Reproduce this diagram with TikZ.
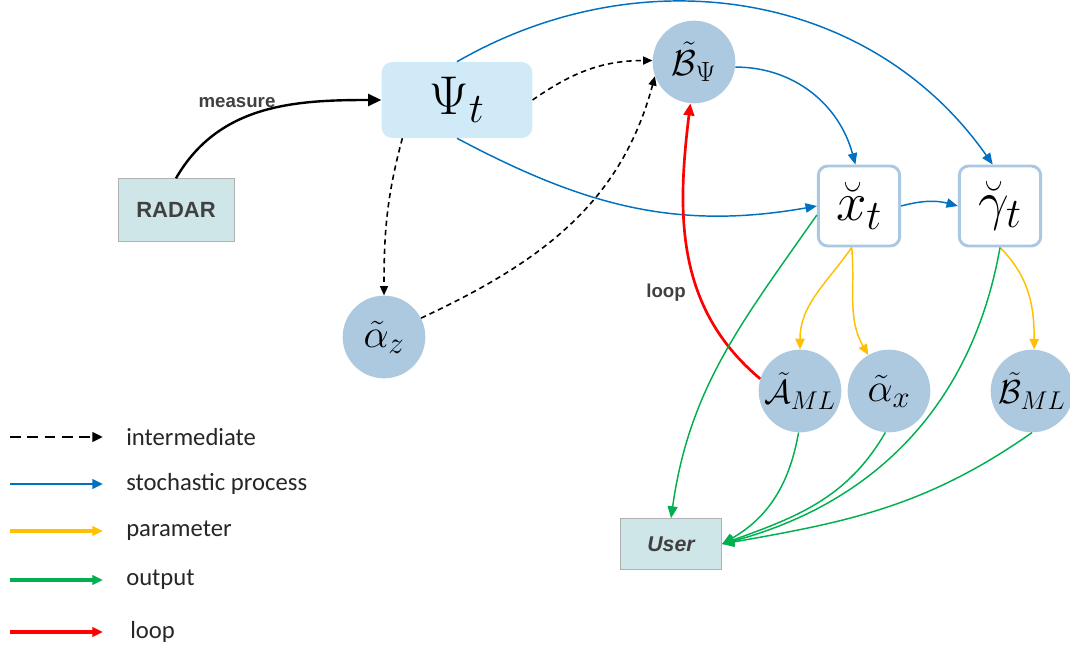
\RequirePackage{fix-cm}
\documentclass[tikz,border=0pt]{standalone}
\usepackage{amsmath}
\usepackage{graphicx}
\usepackage{xcolor}
\usepackage{fontspec}
\newfontfamily\arialfont{Liberation Sans}
\newfontfamily\legendfont{Carlito}
\usepackage{tikz}
\usetikzlibrary{arrows.meta}

\definecolor{procblue}{RGB}{0,112,192}
\definecolor{paramyellow}{RGB}{255,192,0}
\definecolor{outgreen}{RGB}{0,176,80}
\definecolor{loopred}{RGB}{255,0,0}
\definecolor{circfill}{RGB}{173,201,224}
\definecolor{psifill}{RGB}{208,234,248}
\definecolor{radarfill}{RGB}{207,230,232}
\definecolor{boxline}{RGB}{170,200,228}
\definecolor{labelgray}{RGB}{64,64,64}

% larger subscripts, as in the drawing
\newcommand{\bsub}[1]{\scalebox{1.1}{$\scriptstyle #1$}}

\tikzset{
  varcirc/.style={circle,fill=circfill,minimum size=62pt,inner sep=-6pt},
  varbox/.style={rectangle,rounded corners=7pt,draw=boxline,line width=2.2pt,fill=white,
    minimum width=61pt,minimum height=60pt,inner sep=0pt},
  iobox/.style={rectangle,fill=radarfill,draw=gray!60,line width=0.6pt,text=labelgray,
    inner sep=0pt},
  interm/.style={draw=black,line width=1.2pt,dash pattern=on 4pt off 3pt,
    -{Triangle[length=7pt,width=6pt]}},
  stoch/.style={draw=procblue,line width=1.1pt,-{Triangle[length=8.5pt,width=7pt]}},
  param/.style={draw=paramyellow,line width=1.1pt,-{Triangle[length=8pt,width=7pt]}},
  outp/.style={draw=outgreen,line width=1.1pt,-{Triangle[length=9pt,width=7.5pt]}},
  loopr/.style={draw=loopred,line width=2pt,-{Triangle[length=9pt,width=8pt]}},
  legtext/.style={anchor=west,inner sep=0pt,text=black!85,font=\legendfont\fontsize{18.5}{20}\selectfont},
}

\begin{document}
\begin{tikzpicture}[x=0.75pt,y=0.75pt]
    \useasboundingbox (0,0) rectangle (1070,650);

    % sources and targets
    \node[iobox,minimum width=87pt,minimum height=47pt,font=\arialfont\bfseries\fontsize{16.5}{18}\selectfont]
      (radar) at (176,440) {RADAR};
    \node[iobox,minimum width=76pt,minimum height=38pt,font=\arialfont\bfseries\itshape\fontsize{16}{18}\selectfont]
      (user) at (671,106) {User};

    % variables
    \node[rectangle,rounded corners=8pt,fill=psifill,minimum width=113pt,minimum height=57pt,
      font=\fontsize{41}{44}\selectfont] (psi) at (457,550) {$\Psi_{\bsub{t}}$};
    \node[varcirc,font=\fontsize{27}{30}\selectfont] (bpsi) at (694,588) {$\tilde{\mathcal{B}}_{\bsub{\Psi}}$};
    \node[varbox,font=\fontsize{41}{44}\selectfont] (xt) at (859,444) {$\breve{x}_{\bsub{t}}$};
    \node[varbox,font=\fontsize{41}{44}\selectfont] (gam) at (1000,444) {$\breve{\gamma}_{\bsub{t}}$};
    \node[varcirc,font=\fontsize{30}{34}\selectfont] (alz) at (384,313) {$\tilde{\alpha}_{\bsub{z}}$};
    \node[varcirc,font=\fontsize{25}{28}\selectfont] (aml) at (800,259) {$\tilde{\mathcal{A}}_{\bsub{ML}}$};
    \node[varcirc,font=\fontsize{30}{34}\selectfont] (alx) at (889,259) {$\tilde{\alpha}_{\bsub{x}}$};
    \node[varcirc,font=\fontsize{25}{28}\selectfont] (bml) at (1032,259) {$\tilde{\mathcal{B}}_{\bsub{ML}}$};

    % measure
    \draw[line width=1.8pt,-{Triangle[length=10pt,width=9pt]}] (radar.north) to[out=60,in=180] (psi.west);
    \node[text=labelgray,font=\arialfont\bfseries\fontsize{14}{16}\selectfont] (measure) at (237,547) {measure};

    % intermediate
    \draw[interm] (psi.-145) to[out=-105,in=90] (alz.north);
    \draw[interm] (alz.27) to[out=25,in=-105] (bpsi.200);
    \draw[interm] (psi.east) to[out=35,in=180] (bpsi.178);

    % stochastic process
    \draw[stoch] (psi.north) to[out=30,in=125] (gam.100);
    \draw[stoch] (psi.south) to[out=-28,in=190] (xt.west);
    \draw[stoch] (bpsi.-7) to[out=0,in=105] (xt.95);
    \draw[stoch] (xt.east) to[bend left=15] (gam.west);

    % parameters
    \draw[param] (xt.-100) to[out=-125,in=90] (aml.north);
    \draw[param] (xt.-100) to[out=-85,in=120] (alx.120);
    \draw[param] (gam.-90) to[out=-45,in=90] (bml.87);

    % loop
    \draw[loopr] (aml.163) to[out=140,in=-97] (bpsi.-95);
    \node[text=labelgray,font=\arialfont\bfseries\fontsize{14}{16}\selectfont] (looplabel) at (666,357) {loop};

    % outputs
    \draw[outp] (xt.192) to[out=-125,in=82] (user.north);
    \draw[outp] (aml.-92) to[out=-100,in=30] (user.east);
    \draw[outp] (alx.-95) to[out=-120,in=20] (user.east);
    \draw[outp] (gam.-90) to[out=-100,in=15] (user.east);
    \draw[outp] (bml.-90) to[out=-145,in=10] (user.east);

    % legend
    \coordinate (l1a) at (10,213);  \coordinate (l1b) at (103,213);
    \coordinate (l2a) at (10,166);  \coordinate (l2b) at (103,166);
    \coordinate (l3a) at (10,119);  \coordinate (l3b) at (103,119);
    \coordinate (l4a) at (10,70);   \coordinate (l4b) at (103,70);
    \coordinate (l5a) at (10,18);   \coordinate (l5b) at (103,18);
    \draw[line width=2pt,dash pattern=on 8pt off 5pt,-{Triangle[length=8pt,width=7pt]}] (l1a) -- (l1b);
    \draw[draw=procblue,line width=2pt,-{Triangle[length=8pt,width=7pt]}] (l2a) -- (l2b);
    \draw[draw=paramyellow,line width=2.5pt,-{Triangle[length=8pt,width=7pt]}] (l3a) -- (l3b);
    \draw[draw=outgreen,line width=2.5pt,-{Triangle[length=8pt,width=7pt]}] (l4a) -- (l4b);
    \draw[draw=loopred,line width=2.5pt,-{Triangle[length=8pt,width=7pt]}] (l5a) -- (l5b);
    \node[legtext] (t1) at (126,213) {intermediate};
    \node[legtext] (t2) at (126,166) {stochastic process};
    \node[legtext] (t3) at (126,119) {parameter};
    \node[legtext] (t4) at (126,70) {output};
    \node[legtext] (t5) at (130,18) {loop};
\end{tikzpicture}
\end{document}
